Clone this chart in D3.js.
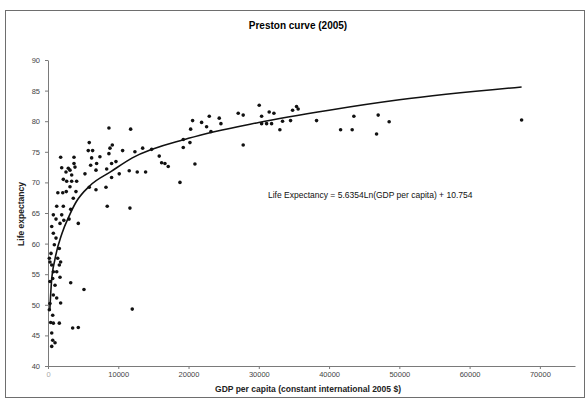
<!DOCTYPE html>
<html>
<head>
<meta charset="utf-8">
<script src="https://cdn.jsdelivr.net/npm/d3@7"></script>
<style>
    body { margin: 0; background: #fff; }
    text { font-family: "Liberation Sans", Arial, sans-serif; }
</style>
</head>
<body>
<div id="chart"></div>
<script>
// country points
var gdpPerCapita = [
    30060, 35370, 35600, 27070, 27780, 22950, 24370, 24610, 20580, 21860,
    20300, 22570, 23190, 19250, 19250, 20200, 15830, 16170, 16640, 17110,
    20910, 18780, 27780, 30400, 31480, 32150, 30400, 31110, 31820, 33380,
    33000, 34520, 34810, 38220, 41640, 43290, 43530, 46990, 46760, 48550,
    14750, 67400,
    8670, 11760, 5870, 5730, 6350, 9150, 8820, 8670, 10620, 12370,
    13470, 1800, 1950, 2180, 1400, 2100, 2600, 2560, 2890, 3130,
    3370, 3700, 3700, 3840, 3370, 2660, 4080, 3980, 3130, 3600,
    2180, 1240, 760, 1140, 1950, 1710, 530, 760, 3230, 4310,
    6210, 6070, 6920, 6830, 7390, 5260, 5870, 6830, 8250, 9050,
    10140, 11560, 12700, 13890, 9050, 9670, 8430, 11660, 8350,
    2250, 3000, 1140, 1610, 900, 430, 1380,
    190, 280, 1800, 530, 1610, 760, 1240, 670, 1710, 280,
    1000, 3230, 5120, 760, 1240, 1800, 280, 190, 670, 380,
    760, 1610, 3510, 4310, 11990, 530, 670, 1000, 530
];
var lifeExpectancy = [
    82.6, 82.4, 82.0, 81.3, 81.0, 80.8, 80.5, 79.6, 80.1, 79.8,
    78.7, 79.1, 78.3, 77.0, 75.7, 76.5, 74.3, 73.2, 73.1, 72.6,
    73.0, 70.0, 76.1, 80.8, 81.5, 81.3, 79.6, 79.6, 79.6, 80.0,
    78.6, 80.1, 81.8, 80.1, 78.6, 78.6, 80.8, 81.0, 77.9, 79.9,
    75.4, 80.2,
    78.9, 78.7, 76.5, 75.2, 75.2, 76.1, 75.6, 74.7, 75.2, 75.0,
    75.6, 74.1, 72.4, 70.5, 68.3, 68.3, 68.5, 71.7, 72.3, 72.0,
    71.2, 74.1, 73.1, 72.5, 70.2, 70.2, 70.2, 68.5, 69.3, 67.4,
    66.1, 66.1, 64.7, 64.0, 64.7, 63.3, 62.8, 61.7, 65.6, 63.3,
    74.0, 72.8, 73.1, 72.0, 74.2, 71.4, 69.2, 68.8, 69.2, 70.8,
    71.4, 71.9, 71.7, 71.7, 73.1, 73.4, 66.1, 65.8, 72.2,
    63.8, 64.0, 60.9, 59.2, 59.8, 58.4, 57.6,
    57.6, 57.0, 57.0, 56.5, 56.5, 55.4, 55.4, 54.3, 54.5, 53.8,
    53.2, 53.6, 52.5, 51.6, 51.1, 50.3, 50.2, 49.2, 48.3, 47.1,
    47.0, 47.0, 46.2, 46.3, 49.3, 45.4, 44.2, 43.8, 43.2
];

// log trend line
var trendGdp = [250, 500, 1000, 2000, 3000, 4000, 6000, 9000, 12000, 20000, 30000, 40000, 50000, 67400];
var trendLife = [49.0, 53.8, 57.5, 61.7, 64.5, 66.8, 69.5, 71.8, 74.0, 77.2, 79.8, 81.8, 83.5, 85.6];

var xTicks = [0, 10000, 20000, 30000, 40000, 50000, 60000, 70000];
var yTicks = [40, 45, 50, 55, 60, 65, 70, 75, 80, 85, 90];

var equationText = "Life Expectancy = 5.6354Ln(GDP per capita) + 10.754";

function drawChart() {
    var width = 588, height = 404;

    var svg = d3.select("#chart")
        .append("svg")
        .attr("width", width)
        .attr("height", height);

    // chart frame
    svg.append("rect")
        .attr("x", 5.5)
        .attr("y", 10.5)
        .attr("width", 579)
        .attr("height", 387)
        .attr("fill", "#fff")
        .attr("stroke", "#6e6e6e");

    var x = d3.scaleLinear()
        .domain([0, 75000])
        .range([48, 575]);

    var y = d3.scaleLinear()
        .domain([40, 90])
        .range([366, 60]);

    var xAxis = svg.append("g")
        .attr("transform", "translate(0," + y(40) + ")")
        .call(d3.axisBottom(x)
            .tickValues(xTicks)
            .tickFormat(d3.format("d"))
            .tickSize(3)
            .tickSizeOuter(0)
            .tickPadding(3));

    var yAxis = svg.append("g")
        .attr("transform", "translate(" + x(0) + ",0)")
        .call(d3.axisLeft(y)
            .tickValues(yTicks)
            .tickSize(3)
            .tickSizeOuter(0)
            .tickPadding(5));

    [xAxis, yAxis].forEach(function (g) {
        g.select(".domain").attr("stroke", "#7a7a7a");
        g.selectAll(".tick line").attr("stroke", "#7a7a7a");
        g.selectAll(".tick text")
            .attr("fill", "#444")
            .style("font-size", "7.5px");
    });
    xAxis.select(".tick text").attr("fill", "#aaa");

    // title and axis titles
    svg.append("text")
        .attr("x", 298)
        .attr("y", 29)
        .attr("text-anchor", "middle")
        .style("font-size", "10px")
        .style("font-weight", "bold")
        .text("Preston curve (2005)");

    svg.append("text")
        .attr("transform", "translate(24,214) rotate(-90)")
        .attr("text-anchor", "middle")
        .attr("fill", "#222")
        .style("font-size", "8.5px")
        .style("font-weight", "bold")
        .text("Life expectancy");

    svg.append("text")
        .attr("x", 308)
        .attr("y", 392)
        .attr("text-anchor", "middle")
        .attr("fill", "#222")
        .style("font-size", "8.5px")
        .style("font-weight", "bold")
        .text("GDP per capita (constant international 2005 $)");

    // points
    svg.selectAll("circle.country")
        .data(d3.range(gdpPerCapita.length))
        .enter()
        .append("circle")
        .attr("class", "country")
        .attr("cx", i => x(gdpPerCapita[i]))
        .attr("cy", i => y(lifeExpectancy[i]))
        .attr("r", 1.8)
        .attr("fill", "#111");

    // trend line
    var line = d3.line()
        .x(i => x(trendGdp[i]))
        .y(i => y(trendLife[i]))
        .curve(d3.curveMonotoneX);

    svg.append("path")
        .datum(d3.range(trendGdp.length))
        .attr("d", line)
        .attr("fill", "none")
        .attr("stroke", "#111")
        .attr("stroke-width", 1.6);

    svg.append("text")
        .attr("x", 268)
        .attr("y", 198)
        .attr("fill", "#111")
        .style("font-size", "8.5px")
        .text(equationText);
}

drawChart();
</script>
</body>
</html>
